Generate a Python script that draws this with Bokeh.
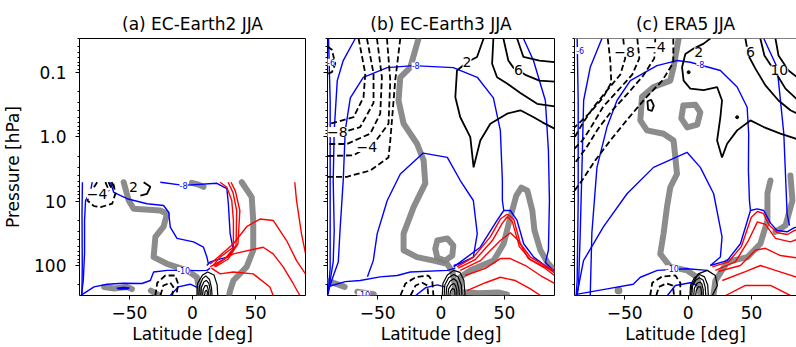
from bokeh.plotting import figure
from bokeh.layouts import row
from bokeh.models import Range1d, FixedTicker, CustomJSTickFormatter, Label, Span
from bokeh.embed import file_html
from bokeh.resources import INLINE

FONT = "DejaVu Sans"

TITLES = ["(a) EC-Earth2 JJA", "(b) EC-Earth3 JJA", "(c) ERA5 JJA"]
X_TICKS = [-50, 0, 50]
Y_TICKS = [0.1, 1, 10, 100]
Y_MINOR = [0.03, 0.04, 0.05, 0.06, 0.07, 0.08, 0.09, 0.2, 0.3, 0.4, 0.5, 0.6, 0.7, 0.8, 0.9,
           2, 3, 4, 5, 6, 7, 8, 9, 20, 30, 40, 50, 60, 70, 80, 90, 200]

# ---------------- panel (a) EC-Earth2 : (latitude, pressure hPa) ----------------
A_GRAY_1 = [(-54.5, 5.1), (-50.5, 9.8), (-46.6, 13.2), (-25.5, 14), (-20.2, 15.7), (-22.9, 25), (-29.4, 36),
            (-30.8, 74), (-20.2, 94), (-4.4, 119), (3.5, 152), (6.1, 290)]
A_GRAY_2 = [(39, 5.1), (46.9, 8.7), (48.1, 20), (48.1, 58), (42.9, 105), (32.4, 171), (29.8, 245), (29, 290)]
A_GRAY_3 = [(-0.5, 5.2), (4, 5.5), (8.7, 6)]
A_GRAY_4 = [(-70, 215), (-62, 228), (-52, 215), (-48, 232)]
A_GRAY_5 = [(-33, 245), (-27, 285)]

A_BLUE_1 = [(-87.2, 5.1), (-87.5, 16), (-87.3, 100), (-87.6, 292)]
A_BLUE_2 = [(-79.4, 5.1), (-80.7, 6.9), (-84.7, 9.8), (-85.5, 20), (-85.5, 65), (-86.5, 171), (-88, 292)]
A_BLUE_3 = [(-65, 5.1), (-62.4, 7.3), (-51.8, 9.2), (-36, 11), (-22.9, 11.7), (-18.9, 14.9), (-17.6, 25.4),
            (-12.3, 38), (0.8, 43), (8.7, 52), (11.4, 74), (12.6, 94)]
A_BLUE_4 = [(-25.5, 5.1), (-7.1, 5.7), (19.3, 5.3), (27.2, 6.4), (28.4, 11), (29.8, 32), (32.4, 58), (27.2, 74),
            (14, 88), (11.4, 100)]
A_BLUE_5 = [(-87.8, 285), (-78, 215), (-67.6, 195), (-55, 188), (-40, 190), (-33.4, 171), (-30.8, 126),
            (-20, 119), (-7, 119), (5, 120), (11.4, 119), (14, 110)]
A_BLUE_6 = [(-60, 225), (-55, 218), (-50, 222), (-52, 232), (-58, 232), (-60, 225)]
A_BLUE_7 = [(-17.6, 292), (-11.3, 215), (-1.8, 195), (4, 220)]

A_RED_1 = [(16.3, 100), (21.9, 74), (32.4, 52), (32.4, 20), (31.1, 9.8), (27.2, 6.1), (21.9, 5.1)]
A_RED_2 = [(17.1, 103), (25.8, 78), (34.5, 49), (35, 14), (32.1, 7.4), (28.2, 5.1)]
A_RED_3 = [(14, 95), (32.4, 46), (42.9, 25), (53.4, 19), (63.9, 20), (74.5, 41), (82.4, 84), (89.5, 135)]
A_RED_4 = [(14, 105), (32.4, 66), (56, 52), (63.9, 66), (71.8, 105), (79.7, 190), (85, 292)]
A_RED_5 = [(15, 110), (21.9, 135), (32.4, 126), (48.1, 135), (61.3, 215), (63.9, 292)]
A_RED_6 = [(81, 5.1), (82.4, 9.8), (86.3, 32), (89.5, 65)]
A_RED_7 = [(18, 105), (28, 80), (36, 46), (37.5, 14), (34, 7), (30.5, 5.1)]

A_SOLID_1 = [(-38.7, 5.1), (-33.4, 6), (-36, 7.7), (-41.3, 8.2)]
A_EQ_1 = [(3.5, 292), (4, 190), (8, 140), (12, 126), (17, 140), (19.5, 200), (20, 292)]
A_EQ_2 = [(5, 292), (5.5, 210), (8, 160), (10.5, 145), (13.5, 165), (15, 220), (15.5, 292)]
A_EQ_3 = [(6.5, 292), (7, 220), (9, 180), (11, 170), (13, 190), (14, 240), (14, 292)]
A_EQ_4 = [(8, 292), (8.5, 235), (10, 205), (11.5, 205), (12.5, 240), (12.5, 292)]
A_EQ_5 = [(9.5, 292), (10, 255), (11, 240), (11.8, 260), (11.5, 292)]

A_DASH_1 = [(-75.5, 5.1), (-80, 7), (-83.3, 9.8), (-78, 12), (-72.8, 12.4), (-63.6, 11), (-61, 7.6), (-63, 5.1)]
A_DASH_2 = [(-69, 5.1), (-66, 7)]
A_DASH_3 = [(-66.5, 5.1), (-63.5, 6.8)]
A_DASH_4 = [(-64, 5.1), (-61.5, 6.5)]
A_DASH_5 = [(-29.4, 292), (-27.9, 185), (-21.5, 143), (-13.7, 143), (-11.3, 195), (-12.9, 292)]
A_DASH_6 = [(-25.4, 292), (-23.1, 204), (-17.6, 185), (-15.2, 215), (-16, 292)]

A_LABELS = [(-46.7, 6.1, "2", "black"), (-75.5, 7.7, "\u22124", "black"),
            (-7.1, 5.7, "-8", "blue"), (-7, 119, "-10", "blue")]

# ---------------- panel (b) EC-Earth3 ----------------
B_GRAY_1 = [(-17.7, 0.03), (-24.2, 0.084), (-32.1, 0.12), (-33.5, 0.275), (-29.5, 0.63), (-18.9, 1.29),
            (-13.7, 2.34), (-12.4, 5.3), (-21.6, 12.4), (-29.5, 32), (-29.5, 58), (-18.9, 74), (-5.8, 84),
            (4.7, 94), (9, 124), (11, 204), (10, 292)]
B_GRAY_2 = [(-2.9, 41), (5, 38), (9.7, 49), (8.9, 70), (3.4, 84), (-2.9, 76), (-4.5, 55), (-2.9, 41)]
B_GRAY_3 = [(15, 292), (15.2, 152), (23.1, 119), (41.5, 84), (49.4, 46), (54.7, 17.8), (59.4, 8.2), (63.4, 6.2),
            (68.1, 6.9), (72, 14), (73.7, 28.6), (78.4, 58), (83.9, 90), (89.5, 119)]
B_GRAY_4 = [(-89, 175), (-82, 195), (-76, 215)]
B_GRAY_5 = [(-66, 255), (-58, 270), (-53, 280)]
B_GRAY_6 = [(18, 260), (30, 270), (45, 262), (52, 280)]

B_BLUE_1 = [(-88.7, 0.03), (-87.4, 0.275), (-87.4, 110), (-89, 280)]
B_BLUE_2 = [(-67.6, 0.03), (-77.1, 0.066), (-81.8, 0.135), (-84.2, 0.8), (-85, 4.8), (-84.2, 28.6), (-85, 88),
            (-87.4, 171), (-89, 280)]
B_BLUE_3 = [(-88.8, 245), (-84.8, 143), (-81, 88), (-79.5, 26), (-77.1, 4.8), (-75.5, 0.8), (-71.5, 0.25),
            (-61.3, 0.12), (-42.4, 0.085), (-21.9, 0.079), (9.7, 0.085), (28.6, 0.12), (41.3, 0.25),
            (46.8, 0.8), (48.4, 4.8), (48.4, 9.8), (49.5, 14), (54.7, 14), (60, 20), (65.2, 46), (73.1, 74),
            (84.9, 111), (89.5, 119)]
B_BLUE_4 = [(49.5, 14), (44.2, 20), (31, 52), (10, 105)]
B_BLUE_5 = [(-58, 150), (-53.4, 84), (-50.3, 32), (-42.4, 9.8), (-32.1, 3.8), (-14, 1.8), (5, 2.1), (15.2, 4.8),
            (25.5, 9.8), (28.6, 32), (25.5, 74), (15.2, 93), (10, 100)]
B_BLUE_6 = [(-88, 210), (-75.5, 178), (-63.7, 171), (-48, 150), (-34.5, 143), (-24.2, 126), (5, 119), (11.3, 110)]
B_BLUE_7 = [(65, 0.03), (72.9, 0.066), (82.3, 0.275), (84.7, 1.64), (85.5, 9.8), (84.7, 58), (82.3, 90),
            (88.6, 119)]
B_BLUE_8 = [(-20, 292), (-12, 220), (-3, 200), (3, 215)]

B_RED_1 = [(12.6, 105), (25.7, 74), (38.9, 36), (46.8, 19), (52.1, 16), (57.3, 19), (62.6, 46), (70.5, 74),
           (83.7, 105), (89.5, 119)]
B_RED_2 = [(13.6, 110), (27, 81), (40.5, 41), (48.4, 22), (52.3, 17.5), (56.3, 21), (61.8, 51), (70.5, 81),
           (83.9, 111), (89.5, 128)]
B_RED_3 = [(15.2, 119), (31, 84), (46.8, 41), (54.7, 31), (61, 41), (68.9, 78), (82.3, 111), (89.5, 143)]
B_RED_4 = [(19.1, 143), (35, 111), (46.8, 78), (54.7, 78), (66.6, 100), (78.4, 143), (89.5, 190)]
B_RED_5 = [(20.5, 245), (35, 185), (46.8, 152), (58.6, 171), (70.5, 230), (78.4, 292)]

B_SOLID_1 = [(33.6, 0.03), (28.4, 0.058), (20.5, 0.07), (12.6, 0.094), (11.3, 0.245), (15.2, 0.5), (23.1, 1.02),
             (25.7, 3), (31, 1.15), (38.9, 0.63), (52.1, 0.44), (62.6, 0.39), (73.1, 0.5), (80, 0.6),
             (89.5, 0.75)]
B_SOLID_2 = [(41.3, 0.03), (40.3, 0.074), (44.2, 0.12), (52.1, 0.15), (62.6, 0.21), (75.8, 0.31), (89.5, 0.34)]
B_SOLID_3 = [(49.2, 0.03), (53.1, 0.066), (57.1, 0.085), (61, 0.094), (66.5, 0.11), (77.6, 0.135), (89.5, 0.14)]
B_SOLID_4 = [(60, 0.03), (65, 0.058), (77.6, 0.066), (89.5, 0.07)]
B_EQ_1 = [(1, 292), (1.5, 190), (5, 140), (10, 119), (15, 128), (18, 170), (19, 292)]
B_EQ_2 = [(2.5, 292), (3, 200), (6, 155), (10, 138), (13.5, 150), (16, 200), (16.5, 292)]
B_EQ_3 = [(4, 292), (4.5, 215), (7, 175), (10, 160), (12.5, 175), (14, 225), (14.5, 292)]
B_EQ_4 = [(5.5, 292), (6, 230), (8, 200), (10, 190), (11.5, 205), (12.5, 245), (12.5, 292)]
B_EQ_5 = [(7, 292), (7.5, 250), (9, 228), (10.5, 235), (11, 265), (11, 292)]

B_DASH_1 = [(-65, 0.03), (-59.7, 0.105), (-61.1, 0.245), (-69, 0.5), (-87.4, 0.63), (-89.5, 0.63)]
B_DASH_2 = [(-58.4, 0.03), (-53.2, 0.105), (-53.2, 0.3), (-63.7, 0.71), (-76.9, 0.85), (-89.5, 0.85)]
B_DASH_3 = [(-50.5, 0.03), (-46.6, 0.12), (-47.9, 0.44), (-55.8, 0.9), (-74.2, 1.3), (-89.5, 1.3)]
B_DASH_4 = [(-42.6, 0.03), (-40, 0.135), (-41.4, 0.63), (-53.2, 1.3), (-69, 1.95), (-89.5, 2)]
B_DASH_5 = [(-32.1, 0.03), (-36.1, 0.135), (-40, 1.15), (-41.4, 2.1), (-55.8, 3.35), (-74.2, 4.2), (-89.5, 4.2)]
B_DASH_6 = [(-89.5, 0.04), (-86, 0.045), (-83.4, 0.074), (-86, 0.1), (-89.5, 0.106)]
B_DASH_7 = [(-32, 292), (-28, 190), (-20, 152), (-10, 143), (-6.9, 171), (-6, 292)]
B_DASH_8 = [(-24, 292), (-20, 204), (-14.8, 185), (-10.8, 204), (-10, 292)]

B_LABELS = [(20.5, 0.07, "2", "black"), (61, 0.094, "6", "black"), (-81.8, 0.85, "\u22128", "black"),
            (-58.4, 1.45, "\u22124", "black"), (-86.7, 0.07, "-6", "blue"), (-20, 0.08, "-8", "blue"),
            (-61, 280, "-10", "blue")]

# ---------------- panel (c) ERA5 ----------------
C_GRAY_1 = [(-7.4, 0.03), (-11.4, 0.084), (-14, 0.135), (-27.2, 0.17), (-36.3, 0.24), (-37.6, 0.56), (-32.4, 0.8),
            (-19.3, 0.9), (-11.4, 1.15), (-10, 2.1), (-8.7, 3.8), (-14, 6.1), (-16.6, 12.4), (-19.3, 32),
            (-21.9, 66), (-14, 105), (-0.8, 119), (7.1, 152), (9.7, 275)]
C_GRAY_2 = [(-3.7, 0.33), (5.8, 0.32), (9.7, 0.42), (7.3, 0.65), (-0.6, 0.72), (-5.3, 0.52), (-3.7, 0.33)]
C_GRAY_3 = [(20, 292), (21.6, 171), (31, 88), (46.8, 74), (57, 46), (62.6, 20), (62.6, 7.6), (65, 4.8)]
C_GRAY_4 = [(80.7, 4), (82.3, 9.8), (76.8, 24), (68.9, 30)]
C_GRAY_DOT = [(-54.8, 245)]

C_BLUE_1 = [(-87.4, 0.03), (-86.6, 0.275), (-86.6, 9.8), (-87.4, 171), (-88.2, 292)]
C_BLUE_2 = [(-67.9, 0.03), (-77.1, 0.084), (-82.3, 0.275), (-83.6, 3), (-85, 32), (-86.3, 195), (-87.4, 292)]
C_BLUE_3 = [(-77.1, 292), (-75.8, 31), (-71.8, 3), (-63.9, 0.71), (-56, 0.275), (-45.5, 0.135), (-24.5, 0.079),
            (-8.7, 0.066), (1.8, 0.07), (25.5, 0.094), (38.7, 0.17), (46.6, 0.35), (47.8, 0.9), (47.6, 3.4),
            (48.4, 9.8), (49.2, 14), (54.5, 13.2), (59.7, 14), (65, 22), (70.2, 28.6), (78.1, 30), (83.4, 26),
            (89.5, 24)]
C_BLUE_4 = [(49.2, 14), (41.3, 46), (30.8, 84), (17.6, 100)]
C_BLUE_5 = [(-87.6, 285), (-82.4, 84), (-66.6, 25), (-48.1, 7.7), (-27.2, 3), (-0.8, 1.75), (9.7, 3), (20.2, 7.7),
            (26.8, 36), (25.5, 74), (17.6, 100)]
C_BLUE_6 = [(-88.2, 280), (-63.7, 230), (-43.2, 195), (-37.6, 152), (-24.2, 119), (-0.6, 112), (15.2, 119)]
C_BLUE_7 = [(-16.3, 292), (-10, 204), (1.8, 185), (7.3, 204)]
C_BLUE_8 = [(59.7, 0.03), (70.2, 0.084), (75.5, 0.9), (78.1, 16), (80, 24)]

C_RED_1 = [(19.2, 105), (31.8, 88), (42, 51), (49.9, 17.8), (54.7, 14.5), (59.4, 15.5), (64.2, 24), (70.5, 31),
           (78.4, 33), (83.9, 28.6), (89.5, 27)]
C_RED_2 = [(21.6, 119), (37.3, 88), (47.6, 41), (54.7, 21), (61, 23), (68.9, 38), (80.7, 43), (89.5, 37)]
C_RED_3 = [(23.9, 124), (41.3, 100), (53.1, 58), (61, 54), (72.8, 70), (89.5, 78)]
C_RED_4 = [(27, 171), (45.2, 124), (57.1, 100), (68.9, 119), (89.5, 160)]
C_RED_5 = [(29.6, 292), (45.2, 204), (65, 204), (80.7, 292)]

C_SOLID_1 = [(17.6, 0.03), (12.3, 0.036), (4.4, 0.043), (-2.1, 0.052), (-4.7, 0.084), (-3.5, 0.135), (1.8, 0.18),
             (12.3, 0.19), (22.9, 0.17), (26.8, 0.275), (25.5, 0.5), (22.9, 1.15), (26.8, 2.1), (30.8, 1.29),
             (38.7, 0.8), (49.2, 0.56), (59.7, 0.71), (72.8, 0.9), (89.5, 1.15)]
C_SOLID_2 = [(45.2, 0.03), (47.6, 0.055), (53.1, 0.088), (61, 0.16), (71.3, 0.275), (80.7, 0.39), (89.5, 0.47)]
C_SOLID_3 = [(57, 0.03), (60.2, 0.055), (68.9, 0.1), (76.8, 0.18), (85.5, 0.26)]
C_SOLID_4 = [(68.9, 0.03), (71.3, 0.055), (79.2, 0.094), (89.5, 0.135)]
C_SOLID_5 = [(-32, 0.28), (-29, 0.27), (-27, 0.33), (-28.5, 0.4), (-31.5, 0.38), (-32, 0.28)]
C_DOTS = [(0.5, 0.1), (38.7, 0.5)]
C_EQ_1 = [(2, 292), (3, 200), (8, 135), (15.2, 119), (21.5, 143), (23.1, 204), (19.2, 292)]
C_EQ_2 = [(1.5, 292), (2, 200), (5, 155), (9, 138), (13, 150), (15.5, 200), (16, 292)]
C_EQ_3 = [(3, 292), (3.5, 210), (6, 170), (9, 155), (12, 170), (13.5, 215), (14, 292)]
C_EQ_4 = [(4.5, 292), (5, 225), (7, 190), (9.5, 180), (11, 195), (12, 240), (12, 292)]
C_EQ_5 = [(6, 292), (6.5, 245), (8, 215), (10, 215), (10.5, 255), (10.5, 292)]

# nested negative contours of the SH upper stratosphere (outermost first)
C_DASH_1 = [(-11.6, 0.03), (-11.6, 0.071), (-20.3, 0.135), (-33.7, 0.255), (-47.1, 0.52), (-61.3, 1.15),
            (-73.2, 2.34), (-82.6, 4.5), (-89.5, 6.9)]
C_DASH_2 = [(-25.8, 0.03), (-26.6, 0.061), (-35.3, 0.113), (-47.1, 0.21), (-59.7, 0.39), (-70.8, 0.75),
            (-80.3, 1.5), (-89.5, 2.6)]
C_DASH_3 = [(-40, 0.03), (-38.4, 0.061), (-44, 0.109), (-55, 0.19), (-66.8, 0.34), (-77.1, 0.75), (-83.4, 1.15),
            (-89.5, 1.53)]
C_DASH_4 = [(-51.1, 0.03), (-49.5, 0.061), (-53.4, 0.109), (-63.7, 0.19), (-74, 0.34), (-82.6, 0.6),
            (-89.5, 1.03)]
C_DASH_5 = [(-63.3, 0.03), (-61.3, 0.066), (-60.5, 0.145), (-66.8, 0.245), (-77.1, 0.42), (-89.5, 0.72)]
C_DASH_7 = [(-29.8, 292), (-28.2, 185), (-20.3, 148), (-10, 143), (-6.1, 185), (-6.1, 292)]
C_DASH_8 = [(-25, 292), (-23, 215), (-17, 190), (-12, 205), (-11, 292)]

C_LABELS = [(-50, 0.048, "\u22128", "black"), (-25.8, 0.041, "\u22124", "black"), (8.4, 0.049, "2", "black"),
            (49.2, 0.048, "6", "black"), (72, 0.094, "10", "black"), (-85, 0.046, "-6", "blue"),
            (9.7, 0.076, "-8", "blue"), (-12.4, 112, "-10", "blue")]

PANELS = [
    dict(gray=[A_GRAY_1, A_GRAY_2, A_GRAY_3, A_GRAY_4, A_GRAY_5], dots=[],
         blue=[A_BLUE_1, A_BLUE_2, A_BLUE_3, A_BLUE_4, A_BLUE_5, A_BLUE_6, A_BLUE_7],
         red=[A_RED_1, A_RED_2, A_RED_3, A_RED_4, A_RED_5, A_RED_6, A_RED_7],
         solid=[A_SOLID_1], eq=[A_EQ_1, A_EQ_2, A_EQ_3, A_EQ_4, A_EQ_5], black_dots=[],
         dash=[A_DASH_1, A_DASH_2, A_DASH_3, A_DASH_4, A_DASH_5, A_DASH_6], labels=A_LABELS),
    dict(gray=[B_GRAY_1, B_GRAY_2, B_GRAY_3, B_GRAY_4, B_GRAY_5, B_GRAY_6], dots=[],
         blue=[B_BLUE_1, B_BLUE_2, B_BLUE_3, B_BLUE_4, B_BLUE_5, B_BLUE_6, B_BLUE_7, B_BLUE_8],
         red=[B_RED_1, B_RED_2, B_RED_3, B_RED_4, B_RED_5],
         solid=[B_SOLID_1, B_SOLID_2, B_SOLID_3, B_SOLID_4], eq=[B_EQ_1, B_EQ_2, B_EQ_3, B_EQ_4, B_EQ_5],
         black_dots=[],
         dash=[B_DASH_1, B_DASH_2, B_DASH_3, B_DASH_4, B_DASH_5, B_DASH_6, B_DASH_7, B_DASH_8], labels=B_LABELS),
    dict(gray=[C_GRAY_1, C_GRAY_2, C_GRAY_3, C_GRAY_4], dots=C_GRAY_DOT,
         blue=[C_BLUE_1, C_BLUE_2, C_BLUE_3, C_BLUE_4, C_BLUE_5, C_BLUE_6, C_BLUE_7, C_BLUE_8],
         red=[C_RED_1, C_RED_2, C_RED_3, C_RED_4, C_RED_5],
         solid=[C_SOLID_1, C_SOLID_2, C_SOLID_3, C_SOLID_4, C_SOLID_5],
         eq=[C_EQ_1, C_EQ_2, C_EQ_3, C_EQ_4, C_EQ_5], black_dots=C_DOTS,
         dash=[C_DASH_1, C_DASH_2, C_DASH_3, C_DASH_4, C_DASH_5, C_DASH_7, C_DASH_8], labels=C_LABELS),
]

# layout: (figure width, left border, right border, x end)
GEOM = [(316, 79, 11, 89.5), (248, 11, 10, 89.5), (232, 10, 0, 85.5)]
HEIGHT = 347


def xy(path):
    return [pt[0] for pt in path], [pt[1] for pt in path]


def make_panel(i):
    w, bl, br, xend = GEOM[i]
    d = PANELS[i]
    p = figure(width=w, height=HEIGHT, x_range=Range1d(-89.5, xend), y_range=Range1d(292, 0.03),
               y_axis_type="log", output_backend="svg", toolbar_location=None,
               min_border_left=bl, min_border_right=br, min_border_top=38, min_border_bottom=52,
               title=TITLES[i], background_fill_color="white", border_fill_color="white")
    p.grid.visible = False
    p.title.text_font = FONT
    p.title.text_font_size = "17px"
    p.title.text_font_style = "normal"
    p.title.text_color = "black"
    p.title.align = "center"
    p.title.standoff = 9

    xa = p.xaxis[0]
    xa.ticker = FixedTicker(ticks=X_TICKS, minor_ticks=[])
    xa.formatter = CustomJSTickFormatter(code="return tick < 0 ? '\\u2212' + Math.abs(tick) : String(tick);")
    xa.major_label_text_font = FONT
    xa.major_label_text_font_size = "17px"
    xa.major_label_text_color = "black"
    xa.major_tick_line_color = "black"
    xa.major_tick_out = 4
    xa.major_tick_in = 0
    xa.minor_tick_out = 0
    xa.minor_tick_in = 0
    xa.major_label_standoff = 6
    xa.axis_label = "Latitude [deg]"
    xa.axis_label_text_font = FONT
    xa.axis_label_text_font_size = "17px"
    xa.axis_label_text_font_style = "normal"
    xa.axis_label_text_color = "black"
    xa.axis_label_standoff = 2

    ya = p.yaxis[0]
    ya.ticker = FixedTicker(ticks=Y_TICKS, minor_ticks=Y_MINOR)
    ya.major_tick_out = 4
    ya.major_tick_in = 0
    ya.minor_tick_out = 2
    ya.minor_tick_in = 0
    ya.major_tick_line_color = "black"
    ya.minor_tick_line_color = "black"
    ya.major_label_text_font = FONT
    ya.major_label_text_color = "black"
    ya.major_label_text_font_size = "17px"
    if i == 0:
        ya.formatter = CustomJSTickFormatter(code="return tick == 1 ? '1.0' : String(tick);")
        ya.major_label_standoff = 9
        ya.axis_label = "Pressure [hPa]"
        ya.axis_label_text_font = FONT
        ya.axis_label_text_font_size = "17px"
        ya.axis_label_text_font_style = "normal"
        ya.axis_label_text_color = "black"
        ya.axis_label_standoff = 8
    else:
        ya.formatter = CustomJSTickFormatter(code="return '';")
        ya.major_label_standoff = 0

    if i < 2:
        p.outline_line_color = "black"
        p.outline_line_width = 1
        p.outline_line_alpha = 1
        xa.axis_line_color = None
        ya.axis_line_color = None
    else:
        p.outline_line_color = None
        xa.axis_line_color = "black"
        ya.axis_line_color = "black"
        p.add_layout(Span(location=0.03, dimension="width", line_color="black", line_width=1))

    for path in d["gray"]:
        xs, ys = xy(path)
        p.line(xs, ys, line_color="#808080", line_width=6, line_alpha=0.9, line_cap="round", line_join="round")
    if d["dots"]:
        xs, ys = xy(d["dots"])
        p.scatter(xs, ys, size=7, color="#808080", alpha=0.9)
    for path in d["blue"]:
        xs, ys = xy(path)
        p.line(xs, ys, line_color="#0000ff", line_width=1.4)
    for path in d["red"]:
        xs, ys = xy(path)
        p.line(xs, ys, line_color="#ff0000", line_width=1.4)
    for path in d["solid"]:
        xs, ys = xy(path)
        p.line(xs, ys, line_color="black", line_width=1.8)
    for path in d["eq"]:
        xs, ys = xy(path)
        p.line(xs, ys, line_color="black", line_width=1.2)
    if d["black_dots"]:
        xs, ys = xy(d["black_dots"])
        p.scatter(xs, ys, size=3, color="black")
    for path in d["dash"]:
        xs, ys = xy(path)
        p.line(xs, ys, line_color="black", line_width=1.8, line_dash="6 3")
    for lat, pr, txt, col in d["labels"]:
        size = "14px" if col == "black" else "8px"
        p.add_layout(Label(x=lat, y=pr, text=txt, text_color=col, text_font=FONT, text_font_size=size,
                           text_align="center", text_baseline="middle", background_fill_color="white"))
    return p


figs = [make_panel(i) for i in range(3)]
layout = row(*figs)
open("out.html", "w").write(file_html(layout, INLINE))
